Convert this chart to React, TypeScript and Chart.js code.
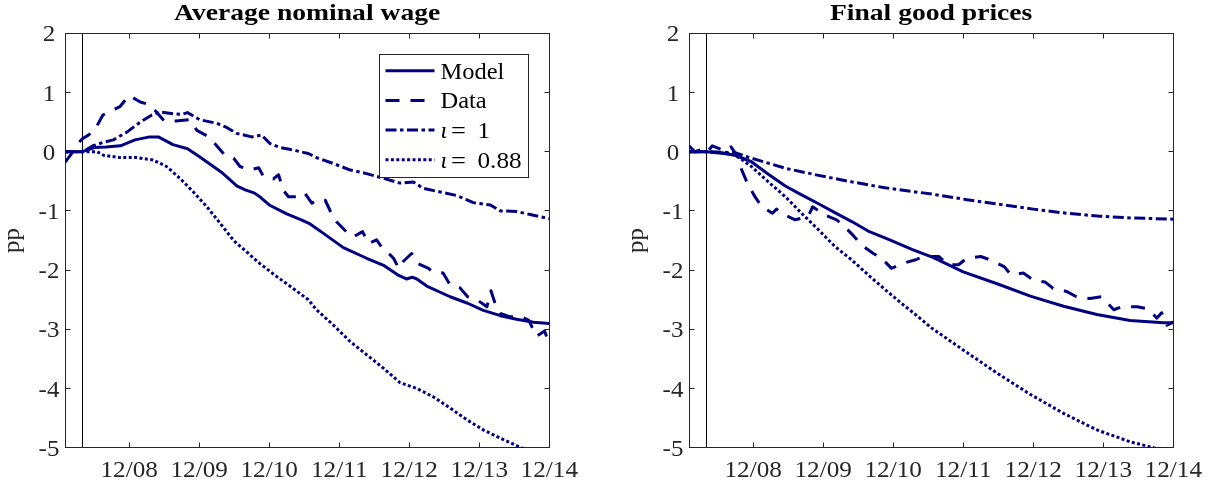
import React, { useEffect, useRef } from "react";
import { Chart, registerables } from "chart.js";

Chart.register(...registerables);

type Pt = [number, number];

// ---------- DATA ----------
const xMin = 1; // 01/08
const xMax = 84; // 12/14
const shockMonth = 4;
const xTickMonths = [12, 24, 36, 48, 60, 72, 84];
const xTickLabels = ["12/08", "12/09", "12/10", "12/11", "12/12", "12/13", "12/14"];
const yTickValues = [2, 1, 0, -1, -2, -3, -4, -5];
const yTickLabels = ["2", "1", "0", "-1", "-2", "-3", "-4", "-5"];
const yMin = -5;
const yMax = 2;
const panelTitles = ["Average nominal wage", "Final good prices"];
const yAxisLabel = "pp";
const legendNames = ["Model", "Data", "ι", "ι"];
const legendValues = ["", "", "1", "0.88"];

const wageModel: Pt[] = [
  [1, 0], [4, 0], [6, 0.07], [8, 0.08], [10.5, 0.1], [13, 0.2], [15.5, 0.25], [17, 0.25],
  [19.5, 0.12], [22, 0.05], [24, -0.08], [26, -0.22], [28, -0.36], [30.5, -0.58], [32, -0.65],
  [33.5, -0.7], [34.5, -0.77], [36, -0.9], [39, -1.05], [41.5, -1.15], [43, -1.22], [45.3, -1.38],
  [48.7, -1.62], [52.7, -1.8], [55.6, -1.92], [58, -2.08], [59.5, -2.15], [60.5, -2.12],
  [61.3, -2.15], [63, -2.27], [67, -2.45], [70, -2.56], [72.7, -2.68], [75.6, -2.77],
  [78.4, -2.83], [81.3, -2.88], [84, -2.9],
];
const wageData: Pt[] = [
  [1, -0.18], [2, -0.05], [3, 0.12], [4, 0.22], [5, 0.28], [6, 0.35], [7.5, 0.62], [8.7, 0.68],
  [10.4, 0.76], [12, 0.95], [13.9, 0.84], [15.3, 0.8], [16.4, 0.7], [18, 0.52], [20, 0.52],
  [22.4, 0.54], [23.6, 0.36], [25.3, 0.27], [26.4, 0.17], [28.4, -0.06], [29.9, -0.11],
  [31, -0.25], [32.7, -0.31], [34.2, -0.27], [35, -0.42], [36.7, -0.46], [37.6, -0.39],
  [38.4, -0.65], [39.3, -0.76], [41.3, -0.76], [42.1, -0.7], [43.3, -0.87], [44.5, -0.8],
  [45.6, -0.82], [46.5, -1.01], [47.5, -1.18], [49.5, -1.38], [50.4, -1.44], [52, -1.35],
  [53, -1.55], [54.4, -1.49], [55.6, -1.66], [56.4, -1.71], [57.3, -1.8], [58.2, -1.97],
  [59, -1.85], [60.4, -1.72], [61.3, -1.88], [63.3, -1.97], [64, -2.03], [65.8, -2.05],
  [67, -2.25], [68.7, -2.3], [70, -2.45], [71.6, -2.5], [73.3, -2.62], [74, -2.35],
  [74.7, -2.56], [75.6, -2.73], [77.3, -2.79], [79, -2.78], [80.5, -2.85], [81.8, -3.12],
  [83.2, -3.03], [84, -3.25],
];
const wageIota1: Pt[] = [
  [1, 0], [4, 0], [5.8, 0.1], [7.6, 0.16], [9.3, 0.2], [11.6, 0.33], [13.9, 0.5], [15.9, 0.62],
  [17.3, 0.67], [19.5, 0.64], [21, 0.63], [22, 0.66], [24.1, 0.54], [27, 0.48], [28.7, 0.41],
  [30.4, 0.31], [33, 0.25], [34.7, 0.28], [36.1, 0.14], [37.9, 0.07], [40.1, 0.03], [41.3, 0.0],
  [42.7, -0.03], [44.1, -0.1], [47, -0.2], [49.9, -0.31], [52.7, -0.37], [55.6, -0.45],
  [58.4, -0.53], [60.7, -0.51], [62.4, -0.62], [65.3, -0.68], [68.1, -0.74], [71, -0.86],
  [73.9, -0.9], [75.6, -1.0], [78.4, -1.01], [80.7, -1.06], [84, -1.13],
];
const wageIota088: Pt[] = [
  [1, 0], [4, 0], [6.5, 0], [7.6, -0.06], [10.4, -0.1], [13.3, -0.1], [16.1, -0.14],
  [18.4, -0.25], [20.7, -0.45], [23, -0.68], [25.3, -0.93], [27.6, -1.21], [29.9, -1.5],
  [32.1, -1.69], [34.4, -1.89], [37.3, -2.11], [40.1, -2.31], [42.7, -2.5], [44.1, -2.67],
  [47, -2.93], [49.9, -3.21], [52.7, -3.43], [55.6, -3.66], [58.4, -3.9], [61.3, -4.0],
  [64.1, -4.14], [67, -4.33], [69.9, -4.53], [72.7, -4.7], [75.6, -4.84], [78.7, -4.98],
  [81, -5.08], [84, -5.2],
];

const priceModel: Pt[] = [
  [1, 0], [4, 0], [7, -0.03], [8.9, -0.06], [11.7, -0.17], [14.6, -0.38], [17.5, -0.58],
  [20.3, -0.73], [23.2, -0.88], [26, -1.03], [28.9, -1.18], [31.7, -1.34], [35.2, -1.48],
  [39.2, -1.65], [42.9, -1.79], [48, -2.03], [53.8, -2.23], [59.5, -2.44], [65.2, -2.61],
  [70.9, -2.75], [76.6, -2.85], [82.3, -2.89], [84, -2.89],
];
const priceData: Pt[] = [
  [1, 0.1], [2, 0.0], [3, 0.03], [4, -0.02], [5, 0.1], [6.5, 0.04], [7.5, 0.02], [8.2, 0.08],
  [9.4, -0.09], [10, -0.3], [11, -0.53], [12.3, -0.76], [13.5, -0.93], [15.3, -1.04], [16, -0.97],
  [16.8, -1.04], [19.2, -1.15], [20.5, -1.12], [21.4, -1.1], [22.2, -0.93], [24.3, -1.07],
  [26.3, -1.15], [27.4, -1.24], [29.1, -1.41], [30.6, -1.58], [32.6, -1.72], [34, -1.8],
  [35.7, -1.97], [37.5, -1.89], [39.7, -1.83], [41.3, -1.77], [43.8, -1.77], [45.5, -1.91],
  [47.2, -1.91], [48.6, -1.8], [51, -1.77], [52.7, -1.83], [55, -1.94], [56.2, -2.08],
  [58.3, -2.05], [60, -2.17], [62, -2.2], [63.4, -2.31], [65.7, -2.36], [67.4, -2.45],
  [69.7, -2.48], [71.7, -2.45], [73.8, -2.67], [75.2, -2.62], [77.8, -2.62], [79.5, -2.65],
  [81.2, -2.81], [82, -2.72], [82.9, -2.93], [84, -2.88],
];
const priceIota1: Pt[] = [
  [1, 0], [4, 0], [9, -0.02], [11.7, -0.11], [17.5, -0.28], [23.2, -0.4], [28.9, -0.51],
  [34.6, -0.61], [42.9, -0.72], [48.6, -0.81], [54.3, -0.89], [60, -0.97], [65.7, -1.04],
  [71.4, -1.09], [77.1, -1.12], [84, -1.14],
];
const priceIota088: Pt[] = [
  [1, 0], [4, 0], [7, -0.02], [9, -0.06], [11.7, -0.25], [14.6, -0.51], [17.5, -0.76],
  [20.3, -1.04], [23.2, -1.32], [26, -1.6], [28.9, -1.83], [31.7, -2.08], [34.6, -2.33],
  [37.4, -2.56], [40.3, -2.79], [42.6, -2.98], [48, -3.35], [53.8, -3.74], [59.5, -4.1],
  [65.2, -4.42], [70.9, -4.7], [76.6, -4.9], [80.6, -5.0], [84, -5.06],
];

// ---------- STYLE ----------
const NAVY = "#000080";
const AXIS = "#262626";
const dashes: number[][] = [[], [14, 11], [11, 3.5, 3.5, 3.5], [3, 2.4]];
const SERIF = "'Liberation Serif', 'Times New Roman', serif";

function drawText(
  ctx: CanvasRenderingContext2D,
  text: string,
  x: number,
  y: number,
  font: string,
  align: CanvasTextAlign,
  scaleX = 1,
  color = AXIS
) {
  ctx.save();
  ctx.font = font;
  ctx.fillStyle = color;
  ctx.textBaseline = "alphabetic";
  ctx.textAlign = align;
  ctx.translate(x, y);
  ctx.scale(scaleX, 1);
  ctx.fillText(text, 0, 0);
  ctx.restore();
}

function makeDecorPlugin(title: string, withLegend: boolean) {
  return {
    id: "decor",
    beforeDatasetsDraw(chart: any) {
      const { ctx, chartArea: a, scales } = chart;
      const xs = scales.x;
      const ys = scales.y;
      const L = Math.floor(a.left) + 0.5;
      const R = Math.floor(a.right) + 0.5;
      const T = Math.floor(a.top) + 0.5;
      const B = Math.floor(a.bottom) + 0.5;
      ctx.save();
      ctx.lineWidth = 1;
      const sx = Math.floor(xs.getPixelForValue(shockMonth)) + 0.5;
      ctx.strokeStyle = "#000";
      ctx.beginPath();
      ctx.moveTo(sx, T);
      ctx.lineTo(sx, B);
      ctx.stroke();
      ctx.strokeStyle = AXIS;
      ctx.strokeRect(L, T, R - L, B - T);
      const tl = 5;
      ctx.beginPath();
      xTickMonths.forEach((m) => {
        const x = Math.floor(xs.getPixelForValue(m)) + 0.5;
        ctx.moveTo(x, B);
        ctx.lineTo(x, B - tl);
        ctx.moveTo(x, T);
        ctx.lineTo(x, T + tl);
      });
      yTickValues.forEach((v) => {
        const y = Math.floor(ys.getPixelForValue(v)) + 0.5;
        ctx.moveTo(L, y);
        ctx.lineTo(L + tl, y);
        ctx.moveTo(R, y);
        ctx.lineTo(R - tl, y);
      });
      ctx.stroke();
      ctx.restore();
    },
    afterDraw(chart: any) {
      const { ctx, chartArea: a, scales } = chart;
      const xs = scales.x;
      const ys = scales.y;
      const tickFont = `24px ${SERIF}`;
      yTickValues.forEach((v, i) => {
        const y = ys.getPixelForValue(v);
        drawText(ctx, yTickLabels[i], a.left - 16, y + 8, tickFont, "center", 1.04);
      });
      xTickMonths.forEach((m, i) => {
        const x = xs.getPixelForValue(m);
        drawText(ctx, xTickLabels[i], x, a.bottom + 29.6, tickFont, "center", 1.05);
      });
      ctx.save();
      ctx.translate(a.left - 46, (a.top + a.bottom) / 2);
      ctx.rotate(-Math.PI / 2);
      drawText(ctx, yAxisLabel, 0, 0, tickFont, "center", 1.04);
      ctx.restore();
      drawText(ctx, title, (a.left + a.right) / 2, 20, `bold 24px ${SERIF}`, "center", 1.15, "#000");
      if (withLegend) {
        const bx = Math.floor(a.right) - 170 + 0.5;
        const by = Math.floor(a.top) + 21 + 0.5;
        const bw = 149;
        const bh = 123;
        ctx.save();
        ctx.fillStyle = "#fff";
        ctx.fillRect(bx, by, bw, bh);
        ctx.strokeStyle = AXIS;
        ctx.lineWidth = 1;
        ctx.strokeRect(bx, by, bw, bh);
        ctx.restore();
        legendNames.forEach((name, i) => {
          const cy = by + 16.2 + i * 29.7;
          ctx.save();
          ctx.strokeStyle = NAVY;
          ctx.lineWidth = 3;
          ctx.lineCap = "butt";
          ctx.setLineDash(dashes[i]);
          ctx.beginPath();
          ctx.moveTo(bx + 6, cy);
          ctx.lineTo(bx + 55, cy);
          ctx.stroke();
          ctx.restore();
          const tx = bx + 61;
          if (legendValues[i] === "") {
            drawText(ctx, name, tx, cy + 7.8, `24px ${SERIF}`, "left", 1.02, "#000");
          } else {
            drawText(ctx, name, tx, cy + 7.8, `italic 24px ${SERIF}`, "left", 1, "#000");
            drawText(ctx, "=", tx + 18, cy + 7.8, `24px ${SERIF}`, "center", 1.1, "#000");
            drawText(ctx, legendValues[i], tx + 37, cy + 7.8, `24px ${SERIF}`, "left", 1.05, "#000");
          }
        });
      }
    },
  };
}

type PanelProps = {
  title: string;
  series: Pt[][];
  withLegend: boolean;
  left: number;
  width: number;
  yAxisWidth: number;
  padRight: number;
};

function Panel({ title, series, withLegend, left, width, yAxisWidth, padRight }: PanelProps) {
  const ref = useRef<HTMLCanvasElement>(null);
  useEffect(() => {
    const canvas = ref.current;
    if (!canvas) return;
    const chart = new Chart(canvas, {
      type: "line",
      data: {
        datasets: series.map((pts, i) => ({
          data: pts.map(([x, y]) => ({ x, y })),
          borderColor: NAVY,
          backgroundColor: NAVY,
          borderWidth: 3,
          borderDash: dashes[i],
          borderCapStyle: "butt",
          borderJoinStyle: "round",
          pointRadius: 0,
          tension: 0,
          fill: false,
          clip: 0,
          order: series.length - i,
        })),
      } as any,
      options: {
        animation: false,
        responsive: false,
        maintainAspectRatio: false,
        layout: { padding: { top: 33.3, right: padRight, bottom: 0, left: 0 } },
        plugins: {
          legend: { display: false },
          tooltip: { enabled: false },
          title: { display: false },
        },
        scales: {
          x: {
            type: "linear",
            min: xMin,
            max: xMax,
            grid: { display: false },
            border: { display: false },
            ticks: { display: false },
            afterFit: (s: any) => {
              s.height = 36.3;
            },
          },
          y: {
            type: "linear",
            min: yMin,
            max: yMax,
            grid: { display: false },
            border: { display: false },
            ticks: { display: false },
            afterFit: (s: any) => {
              s.width = yAxisWidth;
            },
          },
        },
      } as any,
      plugins: [makeDecorPlugin(title, withLegend)],
    });
    return () => chart.destroy();
  }, []);
  return (
    <canvas
      ref={ref}
      width={width}
      height={484}
      style={{ position: "absolute", left, top: 0, width, height: 484 }}
    />
  );
}

export default function App() {
  return (
    <div
      style={{
        position: "fixed",
        left: 0,
        top: 0,
        width: 1211,
        height: 484,
        background: "#fff",
        overflow: "hidden",
      }}
    >
      <Panel
        title={panelTitles[0]}
        series={[wageModel, wageData, wageIota1, wageIota088]}
        withLegend={true}
        left={0}
        width={605}
        yAxisWidth={65}
        padRight={55.7}
      />
      <Panel
        title={panelTitles[1]}
        series={[priceModel, priceData, priceIota1, priceIota088]}
        withLegend={false}
        left={605}
        width={606}
        yAxisWidth={84}
        padRight={37.7}
      />
    </div>
  );
}
